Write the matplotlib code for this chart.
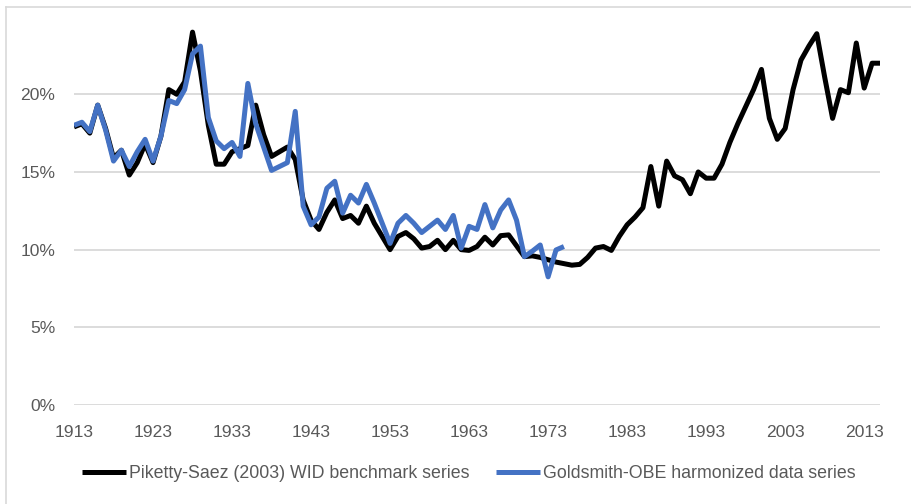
import numpy as np
import matplotlib
matplotlib.use("Agg")
import matplotlib.pyplot as plt
from matplotlib.lines import Line2D
from matplotlib.ticker import FuncFormatter

plt.rcParams['font.family'] = ['Liberation Sans', 'DejaVu Sans']

years_ps = list(range(1913, 2016))
piketty_saez = [
    17.9, 18.1, 17.5, 19.3, 17.8, 15.9, 16.4, 14.8, 15.6, 16.8,   # 1913-1922
    15.6, 17.3, 20.3, 20.0, 20.8, 24.0, 21.5, 18.0, 15.5, 15.5,   # 1923-1932
    16.3, 16.5, 16.7, 19.3, 17.4, 16.0, 16.3, 16.6, 15.8, 13.2,   # 1933-1942
    11.9, 11.3, 12.4, 13.2, 12.0, 12.2, 11.7, 12.8, 11.7, 10.85,  # 1943-1952
    10.0, 10.85, 11.1, 10.7, 10.1, 10.2, 10.6, 10.0, 10.6, 10.0,  # 1953-1962
    9.95, 10.2, 10.8, 10.3, 10.9, 10.95, 10.25, 9.55, 9.6, 9.5,   # 1963-1972
    9.35, 9.2, 9.1, 9.0, 9.05, 9.5, 10.1, 10.2, 9.95, 10.85,      # 1973-1982
    11.6, 12.1, 12.7, 15.35, 12.8, 15.7, 14.75, 14.5, 13.6, 15.0, # 1983-1992
    14.6, 14.6, 15.5, 16.9, 18.1, 19.2, 20.3, 21.6, 18.45, 17.1,  # 1993-2002
    17.8, 20.3, 22.2, 23.1, 23.9, 21.1, 18.45, 20.3, 20.1, 23.3,  # 2003-2012
    20.4, 22.0, 22.0,                                             # 2013-2015
]

years_gs = list(range(1913, 1976))
goldsmith = [
    18.0, 18.2, 17.6, 19.3, 17.7, 15.7, 16.4, 15.35, 16.3, 17.1,  # 1913-1922
    15.7, 17.3, 19.6, 19.4, 20.3, 22.6, 23.1, 18.5, 17.0, 16.5,   # 1923-1932
    16.9, 16.0, 20.7, 18.1, 16.6, 15.1, 15.35, 15.6, 18.9, 12.8,  # 1933-1942
    11.6, 12.1, 13.95, 14.4, 12.35, 13.5, 13.0, 14.2, 13.0, 11.7, # 1943-1952
    10.4, 11.7, 12.2, 11.7, 11.1, 11.5, 11.9, 11.3, 12.2, 10.1,   # 1953-1962
    11.5, 11.3, 12.9, 11.4, 12.55, 13.2, 11.9, 9.55, 9.9, 10.3,   # 1963-1972
    8.25, 9.98, 10.2,                                             # 1973-1975
]

xtick_years = list(range(1913, 2014, 10))
ytick_vals = [0, 5, 10, 15, 20]

label_ps = "Piketty-Saez (2003) WID benchmark series"
label_gs = "Goldsmith-OBE harmonized data series"

text_color = "#595959"
grid_color = "#d9d9d9"

W, H = 912, 504
fig = plt.figure(figsize=(W / 100, H / 100), dpi=100)
ax = fig.add_axes([74 / W, 1 - 405 / H, (880 - 74) / W, (405 - 16.6) / H])

ax.plot(years_ps, piketty_saez, color="black", lw=3.6, solid_joinstyle="round",
        solid_capstyle="butt", label=label_ps, zorder=3)
ax.plot(years_gs, goldsmith, color="#4472C4", lw=3.6, solid_joinstyle="round",
        solid_capstyle="butt", label=label_gs, zorder=4)

ax.set_xlim(1913, 2015)
ax.set_ylim(0, 25)
ax.set_yticks(ytick_vals)
ax.yaxis.set_major_formatter(FuncFormatter(lambda v, p: f"{int(v)}%"))
ax.set_xticks(xtick_years)
ax.set_xticklabels([str(y) for y in xtick_years])

for v in ytick_vals:
    ax.axhline(v, color=grid_color, lw=1.3, zorder=1)

for s in ax.spines.values():
    s.set_visible(False)
ax.tick_params(axis="both", length=0, labelsize=12.6, colors=text_color)
ax.tick_params(axis="y", pad=13.5)
ax.tick_params(axis="x", pad=14.5)

leg = fig.legend(loc="center", bbox_to_anchor=(0.514, 1 - 474 / H), ncol=2,
                 frameon=False, fontsize=12.8, handlelength=2.5, handletextpad=0.17,
                 columnspacing=1.45)
for t in leg.get_texts():
    t.set_color(text_color)

# outer chart border (left and top visible)
fig.add_artist(Line2D([6 / W, 6 / W], [0, 1 - 7 / H], color=grid_color, lw=1.2,
                      transform=fig.transFigure))
fig.add_artist(Line2D([6 / W, 1], [1 - 7 / H, 1 - 7 / H], color=grid_color, lw=1.2,
                      transform=fig.transFigure))

fig.savefig("out.png", dpi=100)
